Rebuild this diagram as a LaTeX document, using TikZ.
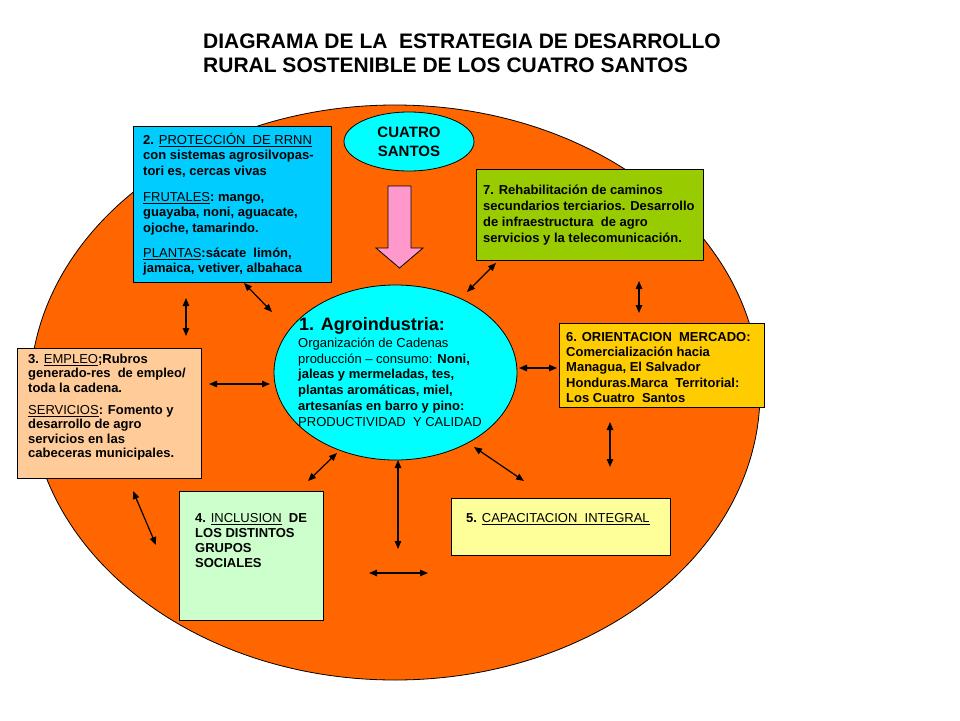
\documentclass[tikz,border=0pt]{standalone}
\usepackage{fontspec}
\setmainfont{Liberation Sans}
\usetikzlibrary{shapes.geometric,arrows.meta}
\definecolor{cOrange}{HTML}{FF6600}
\definecolor{cCyan}{HTML}{00FFFF}
\definecolor{cSky}{HTML}{00CCFF}
\definecolor{cGreen}{HTML}{99CC00}
\definecolor{cGold}{HTML}{FFCC00}
\definecolor{cPeach}{HTML}{FFCC99}
\definecolor{cMint}{HTML}{CCFFCC}
\definecolor{cPaleY}{HTML}{FFFF99}
\definecolor{cPink}{HTML}{FF99CC}
\newcommand\ulm[1]{\underline{\textmd{#1}}}
\begin{document}
\begin{tikzpicture}[x=1pt,y=-1pt,
  boxst/.style={draw=black, line width=0.9pt, rectangle, inner sep=0pt, anchor=north west},
  ellst/.style={draw=black, line width=0.8pt, ellipse, inner sep=0pt},
  txt/.style={anchor=north west, inner sep=0pt, align=left, font=\fontsize{13}{15.5}\selectfont\bfseries},
  dbl/.style={{Triangle[length=8pt,width=6.5pt]}-{Triangle[length=8pt,width=6.5pt]}, line width=1.2pt},
]
\useasboundingbox (0,0) rectangle (960,720);

% title
\node[anchor=base west, inner sep=0pt, font=\fontsize{21}{25}\selectfont\bfseries] (title1) at (203,48) {DIAGRAMA DE LA\ \ ESTRATEGIA DE DESARROLLO};
\node[anchor=base west, inner sep=0pt, font=\fontsize{21}{25}\selectfont\bfseries] (title2) at (203,72) {RURAL SOSTENIBLE DE LOS CUATRO SANTOS};

% big ellipse
\node[ellst, fill=cOrange, minimum width=730pt, minimum height=575pt] (big) at (395,392.5) {};

% pink arrow
\draw[fill=cPink, line width=0.8pt] (388,186) -- (411,186) -- (411,248) -- (423,248) -- (399.5,268) -- (376,248) -- (388,248) -- cycle;

% boxes
\node[boxst, fill=cSky,   minimum width=198pt, minimum height=156pt] (b2) at (133,126) {};
\node[boxst, fill=cGreen, minimum width=227pt, minimum height=91pt]  (b7) at (476,169) {};
\node[boxst, fill=cPeach, minimum width=184pt, minimum height=130pt] (b3) at (17,348) {};
\node[boxst, fill=cGold,  minimum width=205pt, minimum height=84pt]  (b6) at (559,323) {};
\node[boxst, fill=cMint,  minimum width=144pt, minimum height=129pt] (b4) at (179,491) {};
\node[boxst, fill=cPaleY, minimum width=219pt, minimum height=57pt]  (b5) at (451,498) {};

% central ellipse and CUATRO SANTOS
\node[ellst, fill=cCyan, minimum width=243pt, minimum height=175pt] (agro) at (395.5,372.5) {};
\node[ellst, fill=cCyan, minimum width=130pt, minimum height=59pt, align=center,
      font=\fontsize{15}{19}\selectfont\bfseries] (cuatro) at (409,141.5) {CUATRO\\SANTOS};

% texts
\node[txt] (t2) at (143,131) {\rule{0pt}{13pt}2. \ulm{PROTECCIÓN\ \ DE RRNN}\\
con sistemas\ agrosilvopas-\\
tori es, cercas\ vivas\\[10.5pt]
\ulm{FRUTALES}:\ mango,\\
guayaba, noni, aguacate,\\
ojoche, tamarindo.\\[9.5pt]
\ulm{PLANTAS}:sácate\ \ limón,\\
jamaica, vetiver, albahaca};

\node[txt, font=\fontsize{13}{16}\selectfont\bfseries] (t7) at (483,181) {\rule{0pt}{13pt}7. Rehabilitación de caminos\\
secundarios\ terciarios. Desarrollo\\
de infraestructura\ \ de agro\\
servicios y la telecomunicación.};

\node[txt, font=\fontsize{13}{14.5}\selectfont\bfseries] (t3) at (28,350) {\rule{0pt}{13pt}3. \ulm{EMPLEO};Rubros\\
generado-res\ \ de empleo/\\
toda la cadena.\\[7.5pt]
\ulm{SERVICIOS}: Fomento y\\
desarrollo de agro\\
servicios en las\\
cabeceras\ municipales.};

\node[txt, font=\fontsize{13}{15.3}\selectfont\bfseries] (t6) at (566,328) {\rule{0pt}{13pt}6. ORIENTACION\ \ MERCADO:\\
Comercialización hacia\\
Managua, El Salvador\\
Honduras.Marca\ \ Territorial:\\
Los Cuatro\ \ Santos};

\node[txt, font=\fontsize{13}{15}\selectfont\bfseries] (t4) at (195,509) {\rule{0pt}{13pt}4. \ulm{INCLUSION}\ \ DE\\
LOS DISTINTOS\\
GRUPOS\\
SOCIALES};

\node[txt] (t5) at (466,509) {\rule{0pt}{13pt}5. \ulm{CAPACITACION\ \ INTEGRAL}};

\node[anchor=base west, inner sep=0pt, font=\fontsize{18}{20}\selectfont\bfseries] (t1a) at (299,330) {1. Agroindustria:};
\node[txt, font=\fontsize{13}{15.8}\selectfont] (t1b) at (298,334) {\rule{0pt}{13pt}Organización de Cadenas\\
producción – consumo: \textbf{Noni,}\\
\textbf{jaleas y mermeladas, tes,}\\
\textbf{plantas aromáticas, miel,}\\
\textbf{artesanías\ en barro y pino:}\\
PRODUCTIVIDAD\ \ Y CALIDAD};

% double arrows
\coordinate (a1s) at (244,283);  \coordinate (a1e) at (272,312);
\coordinate (a2s) at (186,298);  \coordinate (a2e) at (186,336);
\coordinate (a3s) at (209,384);  \coordinate (a3e) at (270,384);
\coordinate (a4s) at (133,491);  \coordinate (a4e) at (156,545);
\coordinate (a5s) at (308,481);  \coordinate (a5e) at (337,453);
\coordinate (a6s) at (398,460);  \coordinate (a6e) at (398,549);
\coordinate (a7s) at (369,573);  \coordinate (a7e) at (428,573);
\coordinate (a8s) at (474,447);  \coordinate (a8e) at (524,481);
\coordinate (a9s) at (610,422);  \coordinate (a9e) at (610,467);
\coordinate (a10s) at (519,368); \coordinate (a10e) at (557,368);
\coordinate (a11s) at (639,281); \coordinate (a11e) at (639,313);
\coordinate (a12s) at (467,292); \coordinate (a12e) at (496,263);
\foreach \i in {1,...,12} { \draw[dbl] (a\i s) -- (a\i e); }
\end{tikzpicture}
\end{document}
